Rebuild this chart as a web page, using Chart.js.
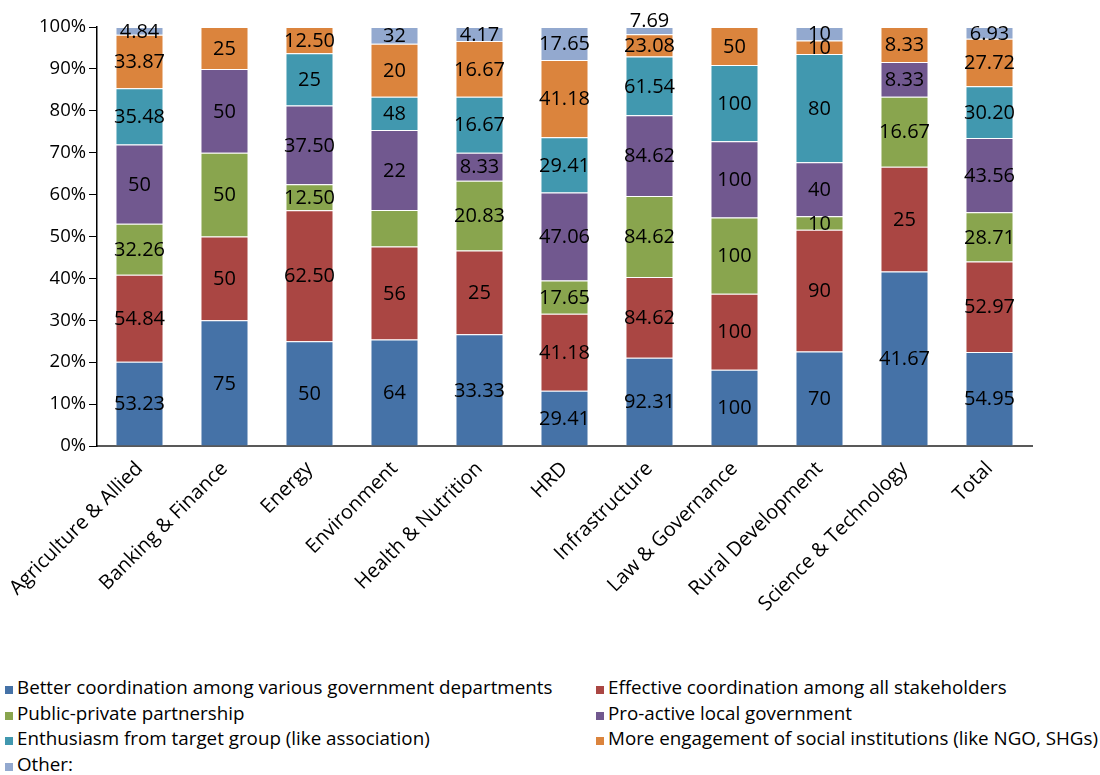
<!DOCTYPE html>
<html>
<head>
<meta charset="utf-8">
<script src="https://cdn.jsdelivr.net/npm/chart.js@4/dist/chart.umd.min.js"></script>
<style>
  body { margin: 0; background: #fff; font-family: "Open Sans", sans-serif; }
  #wrap { position: relative; width: 1100px; height: 775px; }
  #legend { position: absolute; left: 5px; top: 675px; width: 1095px; display: grid;
            grid-template-columns: 591px 504px; font-size: 18.8px; color: #000; }
  .item { height: 25.5px; line-height: 25.5px; white-space: nowrap; }
  .box { display: inline-block; width: 8px; height: 8px; margin-right: 4px; vertical-align: 0px; }
</style>
</head>
<body>
<div id="wrap">
  <canvas id="chart" width="1100" height="640"></canvas>
  <div id="legend"></div>
</div>
<script>
const categories = ['Agriculture & Allied', 'Banking & Finance', 'Energy', 'Environment',
  'Health & Nutrition', 'HRD', 'Infrastructure', 'Law & Governance',
  'Rural Development', 'Science & Technology', 'Total'];

const seriesNames = [
  'Better coordination among various government departments',
  'Effective coordination among all stakeholders',
  'Public-private partnership',
  'Pro-active local government',
  'Enthusiasm from target group (like association)',
  'More engagement of social institutions (like NGO, SHGs)',
  'Other:'
];
const colors = ['#4572A7', '#AA4643', '#89A54E', '#71588F', '#4198AF', '#DB843D', '#93A9CF'];

// raw values per series
const better     = [53.23, 75, 50, 64, 33.33, 29.41, 92.31, 100, 70, 41.67, 54.95];
const effective  = [54.84, 50, 62.5, 56, 25, 41.18, 84.62, 100, 90, 25, 52.97];
const ppp        = [32.26, 50, 12.5, 22, 20.83, 17.65, 84.62, 100, 10, 16.67, 28.71];
const proactive  = [50, 50, 37.5, 48, 8.33, 47.06, 84.62, 100, 40, 8.33, 43.56];
const enthusiasm = [35.48, 0, 25, 20, 16.67, 29.41, 61.54, 100, 80, 0, 30.20];
const engagement = [33.87, 25, 12.5, 32, 16.67, 41.18, 23.08, 50, 10, 8.33, 27.72];
const other      = [4.84, 0, 0, 10, 4.17, 17.65, 7.69, 0, 10, 0, 6.93];

// labels as printed on the original (Environment's are printed one segment up)
const labBetter     = ['53.23', '75', '50', '64', '33.33', '29.41', '92.31', '100', '70', '41.67', '54.95'];
const labEffective  = ['54.84', '50', '62.50', '56', '25', '41.18', '84.62', '100', '90', '25', '52.97'];
const labPpp        = ['32.26', '50', '12.50', '', '20.83', '17.65', '84.62', '100', '10', '16.67', '28.71'];
const labProactive  = ['50', '50', '37.50', '22', '8.33', '47.06', '84.62', '100', '40', '8.33', '43.56'];
const labEnthusiasm = ['35.48', '', '25', '48', '16.67', '29.41', '61.54', '100', '80', '', '30.20'];
const labEngagement = ['33.87', '25', '12.50', '20', '16.67', '41.18', '23.08', '50', '10', '8.33', '27.72'];
const labOther      = ['4.84', '', '', '32', '4.17', '17.65', '7.69', '', '10', '', '6.93'];

const yTicks = [0, 10, 20, 30, 40, 50, 60, 70, 80, 90, 100];

const raw = [better, effective, ppp, proactive, enthusiasm, engagement, other];
const labs = [labBetter, labEffective, labPpp, labProactive, labEnthusiasm, labEngagement, labOther];
const totals = categories.map((c, i) => raw.reduce((s, arr) => s + arr[i], 0));

const datasets = raw.map((arr, k) => ({
  label: seriesNames[k],
  data: arr.map((v, i) => v / totals[i] * 100),
  texts: labs[k],
  backgroundColor: colors[k],
  borderColor: 'rgba(255,255,255,0.45)',
  borderWidth: 1,
  barPercentage: 0.565,
  categoryPercentage: 1
}));

const FONT = '"Open Sans", sans-serif';

const segLabels = {
  id: 'segLabels',
  afterDatasetsDraw(chart) {
    const ctx = chart.ctx;
    ctx.save();
    ctx.font = '20px ' + FONT;
    ctx.fillStyle = '#000';
    ctx.textAlign = 'center';
    ctx.textBaseline = 'middle';
    categories.forEach((c, i) => {
      let prevY = null;
      chart.data.datasets.forEach((ds, k) => {
        const el = chart.getDatasetMeta(k).data[i];
        const txt = ds.texts[i];
        const h = Math.abs(el.base - el.y);
        let y = (el.y + el.base) / 2 + 1;
        // tiny top segment crowding the one below: push its label above the bar
        if (txt && prevY !== null && h < 10 && prevY - y < 18) y = el.y - 6;
        if (txt) { ctx.fillText(txt, el.x, y); prevY = y; }
      });
    });
    ctx.restore();
  }
};

new Chart(document.getElementById('chart'), {
  type: 'bar',
  data: { labels: categories, datasets: datasets },
  plugins: [segLabels],
  options: {
    responsive: false,
    animation: false,
    layout: { padding: { left: 0, right: 68, top: 27, bottom: 0 } },
    plugins: { legend: { display: false }, tooltip: { enabled: false } },
    scales: {
      x: {
        stacked: true,
        grid: { display: false },
        border: { color: '#595959', width: 2 },
        ticks: { color: '#000', font: { family: FONT, size: 20 }, maxRotation: 45, minRotation: 45, padding: 3 },
        afterFit(s) { s.paddingLeft = 0; s.paddingRight = 0; s.height = 640 - 446; }
      },
      y: {
        stacked: true,
        min: 0, max: 100,
        afterBuildTicks(s) { s.ticks = yTicks.map(v => ({ value: v })); },
        grid: { drawOnChartArea: false, drawTicks: true, tickLength: 8, color: '#000' },
        border: { color: '#000', width: 1.5 },
        ticks: { color: '#000', font: { family: FONT, size: 18.5 }, padding: 3, callback: v => v + '%' },
        afterFit(s) { s.width = 97; s.paddingTop = 0; s.paddingBottom = 0; }
      }
    }
  }
});

// html legend, two columns like the original
const leg = document.getElementById('legend');
seriesNames.forEach((n, k) => {
  const d = document.createElement('div');
  d.className = 'item';
  d.innerHTML = '<span class="box" style="background:' + colors[k] + '"></span>' + n;
  leg.appendChild(d);
});
</script>
</body>
</html>
